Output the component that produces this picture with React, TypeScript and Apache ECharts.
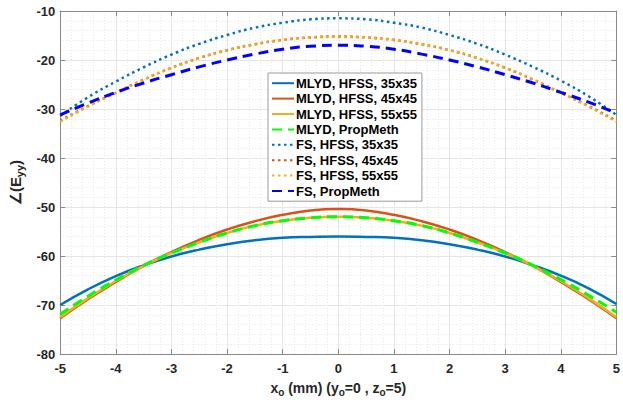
import React, { useEffect, useRef } from "react";
import * as echarts from "echarts";

const xValues = [-5, -4.5, -4, -3.5, -3, -2.5, -2, -1.5, -1, -0.5, 0, 0.5, 1, 1.5, 2, 2.5, 3, 3.5, 4, 4.5, 5];

const mlydHfss35 = [-70.0, -66.8, -64.1, -61.9, -60.1, -58.7, -57.6, -56.8, -56.3, -56.1, -56.0, -56.1, -56.3, -56.8, -57.6, -58.7, -60.1, -61.9, -64.0, -66.6, -69.8];
const mlydHfss45 = [-72.7, -68.8, -65.3, -62.0, -59.2, -56.7, -54.6, -52.9, -51.6, -50.7, -50.4, -50.7, -51.6, -52.9, -54.6, -56.7, -59.2, -62.0, -65.3, -68.8, -72.7];
const mlydHfss55 = [-72.5, -68.6, -65.1, -62.0, -59.4, -57.2, -55.3, -53.8, -52.8, -52.2, -52.0, -52.2, -52.8, -53.8, -55.3, -57.2, -59.4, -62.0, -65.1, -68.6, -72.5];
const mlydProp = [-71.9, -68.2, -64.9, -61.9, -59.4, -57.2, -55.3, -53.8, -52.8, -52.2, -52.0, -52.2, -52.8, -53.8, -55.3, -57.2, -59.4, -61.9, -64.8, -68.0, -71.5];
const fsHfss35 = [-31.4, -27.6, -24.4, -21.5, -18.9, -16.7, -14.9, -13.4, -12.4, -11.7, -11.5, -11.7, -12.4, -13.4, -14.9, -16.7, -18.9, -21.4, -24.2, -27.4, -31.2];
const fsHfss45 = [-32.4, -29.4, -26.7, -24.0, -21.6, -19.6, -18.0, -16.8, -15.9, -15.4, -15.2, -15.4, -15.9, -16.8, -18.0, -19.6, -21.6, -24.0, -26.7, -29.4, -32.4];
const fsHfss55 = [-32.6, -29.5, -26.7, -24.0, -21.6, -19.6, -18.0, -16.8, -15.9, -15.4, -15.3, -15.4, -15.9, -16.8, -18.0, -19.6, -21.6, -24.0, -26.7, -29.5, -32.6];
const fsProp = [-31.2, -28.8, -26.6, -24.7, -23.0, -21.4, -20.0, -18.8, -17.8, -17.2, -17.0, -17.2, -17.8, -18.8, -20.0, -21.4, -23.0, -24.7, -26.6, -28.6, -30.9];

const seriesNames = [
  "MLYD, HFSS, 35x35",
  "MLYD, HFSS, 45x45",
  "MLYD, HFSS, 55x55",
  "MLYD, PropMeth",
  "FS, HFSS, 35x35",
  "FS, HFSS, 45x45",
  "FS, HFSS, 55x55",
  "FS, PropMeth",
];

const xTicks = [-5, -4, -3, -2, -1, 0, 1, 2, 3, 4, 5];
const yTicks = [-80, -70, -60, -50, -40, -30, -20, -10];

const FONT = "'Liberation Sans', Arial, sans-serif";

export default function App() {
  const ref = useRef<HTMLDivElement>(null);
  useEffect(() => {
    if (!ref.current) return;
    const chart = echarts.init(ref.current, undefined, { renderer: "svg" });
    const pair = (ys: number[]) => xValues.map((x, i) => [x, ys[i]]);
    const mk = (name: string, ys: number[], color: string, type: any, width: number, z: number) => ({
      name,
      type: "line",
      data: pair(ys),
      smooth: true,
      showSymbol: false,
      symbol: "none",
      z,
      lineStyle: { color, width, type },
      itemStyle: { color },
    });
    const axisCommon = {
      axisLine: { show: true, onZero: false, lineStyle: { color: "#8a8a8a", width: 1 } },
      axisTick: { show: true, inside: true, length: 5, lineStyle: { color: "#8a8a8a" } },
    };
    chart.setOption({
      animation: false,
      backgroundColor: "#ffffff",
      textStyle: { fontFamily: FONT },
      grid: { left: 53, right: 3, top: 11, bottom: 44, containLabel: false },
      legend: {
        orient: "vertical",
        left: 268,
        top: 73,
        data: seriesNames,
        itemWidth: 22,
        itemHeight: 12,
        itemGap: 1,
        padding: [3, 5, 3, 3],
        backgroundColor: "#ffffff",
        borderColor: "#9a9a9a",
        borderWidth: 1,
        itemStyle: { opacity: 0, borderWidth: 0 },
        textStyle: { fontFamily: FONT, fontSize: 13, fontWeight: "bold", color: "#000000", lineHeight: 14.4, padding: [0, 0, 0, -3] },
      },
      xAxis: [
        {
          type: "value",
          min: -5,
          max: 5,
          interval: 1,
          ...axisCommon,
          axisLabel: { margin: 8, fontSize: 13, fontWeight: "bold", color: "#262626", fontFamily: FONT, formatter: (v: number) => (xTicks.includes(v) ? String(v) : "") },
          splitLine: { show: true, lineStyle: { color: "#e6e6e6", width: 1 } },
          minorTick: { show: true, splitNumber: 5, length: 0 },
          minorSplitLine: { show: true, lineStyle: { color: "#e8e8e8", type: [1, 2], width: 1 } },
          name: "x{sub|o} (mm) (y{sub|o}=0 , z{sub|o}=5)",
          nameLocation: "middle",
          nameGap: 24,
          nameTextStyle: {
            fontSize: 14,
            fontWeight: "bold",
            color: "#262626",
            fontFamily: FONT,
            rich: { sub: { fontSize: 10, fontWeight: "bold", color: "#262626", fontFamily: FONT, padding: [9, 0, 0, 0] } },
          },
        },
        {
          type: "value",
          position: "top",
          min: -5,
          max: 5,
          interval: 1,
          ...axisCommon,
          axisLabel: { show: false },
          splitLine: { show: false },
        },
      ],
      yAxis: [
        {
          type: "value",
          min: -80,
          max: -10,
          interval: 10,
          ...axisCommon,
          axisLabel: { margin: 5, fontSize: 13, fontWeight: "bold", color: "#262626", fontFamily: FONT, formatter: (v: number) => (yTicks.includes(v) ? String(v) : "") },
          splitLine: { show: true, lineStyle: { color: "#e6e6e6", width: 1 } },
          minorTick: { show: true, splitNumber: 5, length: 0 },
          minorSplitLine: { show: true, lineStyle: { color: "#e8e8e8", type: [1, 2], width: 1 } },
          name: "∠(E{sub|yy})",
          nameLocation: "middle",
          nameRotate: 90,
          nameGap: 27,
          nameTextStyle: {
            fontSize: 15,
            fontWeight: "bold",
            color: "#262626",
            fontFamily: FONT,
            rich: { sub: { fontSize: 11, fontWeight: "bold", color: "#262626", fontFamily: FONT, padding: [9, 0, 0, 0] } },
          },
        },
        {
          type: "value",
          position: "right",
          min: -80,
          max: -10,
          interval: 10,
          ...axisCommon,
          axisLabel: { show: false },
          splitLine: { show: false },
        },
      ],
      series: [
        mk(seriesNames[0], mlydHfss35, "#0072BD", "solid", 2.5, 2),
        mk(seriesNames[1], mlydHfss45, "#D95319", "solid", 2.5, 3),
        mk(seriesNames[2], mlydHfss55, "#EDB120", "solid", 2.5, 4),
        mk(seriesNames[3], mlydProp, "#00FF00", [10, 6], 3, 5),
        mk(seriesNames[4], fsHfss35, "#0072BD", [2.5, 3.5], 2.5, 6),
        mk(seriesNames[5], fsHfss45, "#D95319", [2.5, 3.5], 2.5, 7),
        mk(seriesNames[6], fsHfss55, "#EDB120", [2.5, 3.5], 2.5, 8),
        mk(seriesNames[7], fsProp, "#0000FF", [10, 6], 3, 9),
      ],
    });
    return () => chart.dispose();
  }, []);
  return (
    <div style={{ position: "absolute", left: 0, top: 0, width: 623, height: 402, background: "#fff" }}>
      <div ref={ref} style={{ width: 623, height: 402 }} />
    </div>
  );
}
